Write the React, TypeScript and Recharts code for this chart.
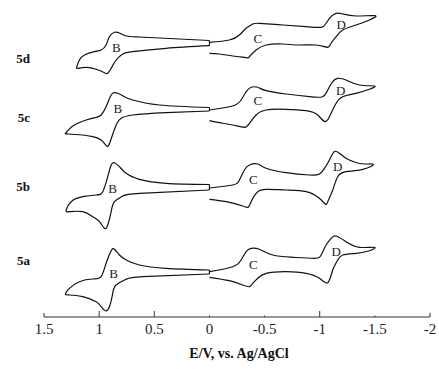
import React from 'react';
import { LineChart, Line, XAxis, YAxis, ReferenceDot } from 'recharts';

// E (V vs Ag/AgCl) and stacked current (arb. units) for each voltammogram.
// "pos" = loop scanned from 0 V to the positive side, "neg" = 0 V to the negative side.
const ePos5d = [0, 0.363, 0.635, 0.752, 0.816, 0.861, 0.907, 0.937, 0.982, 1.043, 1.133, 1.179, 1.203, 1.194, 1.118, 1.027, 0.952, 0.922, 0.891, 0.846, 0.786, 0.696, 0.393, 0];
const iPos5d = [276.5, 278.5, 280, 281, 284, 284.7, 280.3, 272, 267, 265.3, 262, 257, 250.3, 248.7, 249.7, 247.7, 244.3, 243.7, 248.7, 257, 263, 265.3, 268.7, 271.3];
const eNeg5d = [0, -0.181, -0.272, -0.333, -0.393, -0.453, -0.665, -0.877, -1.013, -1.058, -1.103, -1.149, -1.209, -1.33, -1.502, -1.451, -1.33, -1.209, -1.149, -1.103, -1.073, -0.967, -0.816, -0.665, -0.514, -0.423, -0.363, -0.333, -0.211, -0.091, 0];
const iNeg5d = [274.7, 277, 282, 288.7, 293, 293.7, 292, 290.3, 289.7, 293.7, 300.3, 303.7, 303, 301, 301.3, 297, 292, 287, 280.3, 273.7, 269.7, 272, 272, 273, 272, 267, 260.3, 259.3, 261, 263, 263.7];

const ePos5c = [0, 0.453, 0.695, 0.771, 0.831, 0.861, 0.891, 0.937, 0.982, 1.027, 1.118, 1.239, 1.299, 1.285, 1.149, 1.058, 0.982, 0.931, 0.9, 0.846, 0.801, 0.695, 0.393, 0];
const iPos5c = [209.5, 212, 217, 220.3, 223.7, 224.3, 222, 210.3, 202, 199.7, 197, 191, 184.3, 183, 182, 180.3, 177, 171, 175.3, 192, 198.7, 202, 204.3, 206];
const eNeg5c = [0, -0.211, -0.287, -0.333, -0.378, -0.438, -0.514, -0.695, -0.907, -1.027, -1.073, -1.118, -1.163, -1.239, -1.36, -1.496, -1.451, -1.33, -1.209, -1.149, -1.103, -1.052, -0.982, -0.877, -0.695, -0.514, -0.423, -0.363, -0.317, -0.211, -0.091, 0];
const iNeg5c = [207, 211, 217, 225.3, 229.7, 229.7, 226.3, 223, 220.3, 220.3, 227, 235.3, 238.7, 237, 232, 231, 227.7, 223.7, 220.3, 213.7, 203.7, 195.3, 202, 206.3, 207.7, 207, 202, 193.7, 189.7, 192, 194.3, 196.3];

const ePos5b = [0, 0.393, 0.635, 0.755, 0.816, 0.861, 0.891, 0.922, 0.967, 1.027, 1.149, 1.254, 1.299, 1.269, 1.149, 1.058, 0.997, 0.952, 0.922, 0.891, 0.861, 0.786, 0.635, 0];
const iPos5b = [132.5, 133.7, 137.7, 143.7, 150.3, 154.3, 152, 140.3, 125.3, 122, 120.3, 115.3, 107, 105.3, 105.3, 100.3, 95.3, 88.7, 92, 105.3, 115.3, 121, 123.7, 127];
const eNeg5b = [0, -0.211, -0.272, -0.317, -0.363, -0.438, -0.514, -0.695, -0.907, -0.997, -1.043, -1.088, -1.134, -1.188, -1.242, -1.315, -1.405, -1.487, -1.39, -1.239, -1.163, -1.118, -1.073, -1.052, -0.997, -0.877, -0.695, -0.514, -0.438, -0.393, -0.356, -0.302, -0.151, 0];
const iNeg5b = [129, 132, 137, 147, 152, 153, 148.7, 144.3, 142, 143, 148.7, 157, 165.5, 163, 158.5, 155, 153, 152.5, 147.7, 145.3, 140.3, 127, 115.3, 112.7, 118.7, 125.3, 127, 127.7, 125.3, 118.7, 110.3, 111, 115.3, 117.7];

const ePos5a = [0, 0.393, 0.635, 0.755, 0.816, 0.861, 0.891, 0.937, 0.982, 1.058, 1.179, 1.269, 1.306, 1.269, 1.149, 1.027, 0.982, 0.943, 0.907, 0.877, 0.846, 0.755, 0.604, 0];
const iPos5a = [47, 48.7, 52, 57, 62, 67.7, 66.3, 53.7, 40.3, 38, 35.3, 28.7, 23, 22, 20.3, 15.3, 10.3, 6.3, 10.3, 23.7, 32, 37.7, 40.3, 43];
const eNeg5a = [0, -0.211, -0.287, -0.333, -0.378, -0.453, -0.574, -0.755, -0.952, -1.013, -1.058, -1.103, -1.149, -1.239, -1.36, -1.496, -1.451, -1.33, -1.209, -1.163, -1.118, -1.073, -0.997, -0.877, -0.695, -0.514, -0.438, -0.393, -0.363, -0.302, -0.181, 0];
const iNeg5a = [45.3, 50.3, 57, 65.3, 68.7, 67.7, 62, 59.7, 58.7, 62, 72, 78.7, 81, 75.3, 69.7, 69.7, 66.3, 63.7, 62, 57, 47, 34.3, 38.7, 43.7, 45.3, 43.7, 38.7, 33.7, 30.3, 32, 36.3, 39.7];

// compound labels and the stacked level they sit at
const compounds = ['5d', '5c', '5b', '5a'];
const compoundLevels = [259, 200, 130.3, 57];

// wave labels B, C, D per trace: [E, level]
const waveNames = ['B', 'C', 'D'];
const wavePos5d = [[0.843, 270], [-0.438, 278.7], [-1.195, 293]];
const wavePos5c = [[0.831, 208.7], [-0.438, 217], [-1.19, 227]];
const wavePos5b = [[0.877, 128.7], [-0.399, 137.7], [-1.163, 150.3]];
const wavePos5a = [[0.868, 43.7], [-0.399, 53], [-1.149, 65.3]];

const xTicks = [1.5, 1, 0.5, 0, -0.5, -1, -1.5, -2];
const xTickLabels = ['1.5', '1', '0.5', '0', '-0.5', '-1', '-1.5', '-2'];

const zip = (e: number[], i: number[]) => e.map((v, k) => ({ e: v, i: i[k] }));
// vertical segment joining the two ends of a positive-side loop at 0 V
const closer = (e: number[], i: number[]) => [
    { e: e[0], i: i[0] },
    { e: e[e.length - 1], i: i[i.length - 1] },
];

const loops = [
    zip(ePos5d, iPos5d), zip(eNeg5d, iNeg5d),
    zip(ePos5c, iPos5c), zip(eNeg5c, iNeg5c),
    zip(ePos5b, iPos5b), zip(eNeg5b, iNeg5b),
    zip(ePos5a, iPos5a), zip(eNeg5a, iNeg5a),
];
const closers = [
    closer(ePos5d, iPos5d), closer(ePos5c, iPos5c),
    closer(ePos5b, iPos5b), closer(ePos5a, iPos5a),
];

const serif = '"Liberation Serif", "Times New Roman", serif';

const XTick = (props: any) => {
    const { x, y, payload } = props;
    const idx = xTicks.indexOf(payload.value);
    const v = payload.value;
    // longer ticks at 1, 0.5 and -1; medium at the ends; tiny elsewhere
    const h = v === 1 || v === 0.5 || v === -1 ? 6 : v === 1.5 || v === -2 ? 4 : 1.5;
    return (
        <g>
            <line x1={x} y1={y} x2={x} y2={y - h} stroke="#333" strokeWidth={1} />
            <text x={x} y={y + 17} textAnchor="middle" fontFamily={serif} fontSize={15} fill="#222">
                {xTickLabels[idx]}
            </text>
        </g>
    );
};

const WaveLabel = (text: string) => (props: any) => (
    <text x={props.cx} y={props.cy} textAnchor="middle" dominantBaseline="central" fontFamily={serif} fontSize={13} fill="#222">
        {text}
    </text>
);

export default function App() {
    const waves = [wavePos5d, wavePos5c, wavePos5b, wavePos5a];
    return (
        <div style={{ position: 'absolute', left: 0, top: 0, background: '#fff' }}>
            <LineChart width={439} height={369} margin={{ top: 0, right: 9, bottom: 0, left: 0 }}>
                <XAxis
                    dataKey="e"
                    type="number"
                    domain={[-2, 1.5]}
                    reversed
                    ticks={xTicks}
                    interval={0}
                    height={52}
                    tickSize={0}
                    tickMargin={0}
                    tickLine={false}
                    stroke="#333"
                    tick={<XTick />}
                    allowDataOverflow
                    label={{ value: 'E/V, vs. Ag/AgCl', position: 'insideBottom', offset: 11, fontFamily: serif, fontSize: 14, fontWeight: 'bold', fill: '#111', dx: 2 }}
                />
                <YAxis
                    type="number"
                    domain={[0, 317]}
                    width={44}
                    ticks={compoundLevels}
                    tickFormatter={(v) => compounds[compoundLevels.indexOf(v)]}
                    axisLine={false}
                    tickLine={false}
                    tickSize={0}
                    tickMargin={14}
                    tick={{ fontFamily: serif, fontSize: 13, fontWeight: 'bold', fill: '#111' }}
                    allowDataOverflow
                />
                {loops.map((d, k) => (
                    <Line
                        key={k}
                        data={d}
                        dataKey="i"
                        type="natural"
                        stroke="#111"
                        strokeWidth={1.2}
                        dot={false}
                        isAnimationActive={false}
                    />
                ))}
                {closers.map((d, k) => (
                    <Line
                        key={`c${k}`}
                        data={d}
                        dataKey="i"
                        type="linear"
                        stroke="#111"
                        strokeWidth={1.2}
                        dot={false}
                        isAnimationActive={false}
                    />
                ))}
                {waves.map((w, t) =>
                    w.map((p, k) => (
                        <ReferenceDot key={`${t}-${k}`} x={p[0]} y={p[1]} r={0} shape={WaveLabel(waveNames[k])} />
                    ))
                )}
            </LineChart>
        </div>
    );
}
